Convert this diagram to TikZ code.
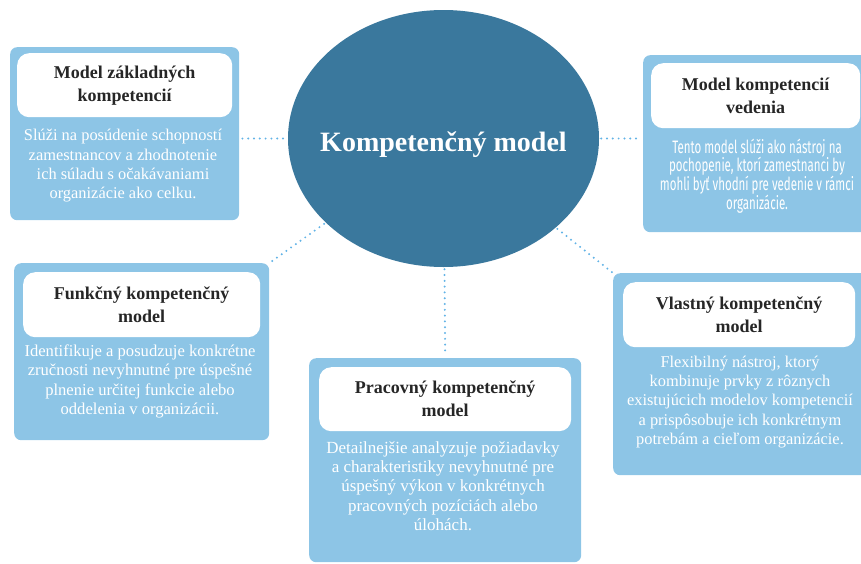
\documentclass[tikz,border=0pt]{standalone}
\usepackage{fontspec}
\setmainfont{Liberation Serif}
\newfontfamily\condsans[FakeStretch=0.64]{Fira Sans}
\usetikzlibrary{shapes.geometric}

\definecolor{hubblue}{HTML}{3A789D}
\definecolor{cardblue}{HTML}{8DC5E6}
\definecolor{dotblue}{HTML}{62B3E6}
\definecolor{titlegray}{HTML}{262626}

\begin{document}
\begin{tikzpicture}[x=1pt,y=-1pt,
  card/.style={fill=cardblue, rounded corners=7pt, inner sep=0pt, anchor=north west},
  headbox/.style={fill=white, rounded corners=12pt, inner sep=0pt, anchor=north west,
    font=\fontsize{18}{23}\selectfont\bfseries, text=titlegray, align=center},
  bodytext/.style={font=\fontsize{16.4}{19.3}\selectfont, text=white, align=center, inner sep=0pt},
  link/.style={draw=dotblue, line width=2.2pt, line cap=round, dash pattern=on 0pt off 5.8pt},
]
\useasboundingbox (0,0) rectangle (861,563);
\clip (0,0) rectangle (861,563);

% central topic
\node[ellipse, fill=hubblue, minimum width=311pt, minimum height=257pt, inner sep=0pt] (ell) at (443.5,138.5) {};
\node[font=\fontsize{28}{32}\selectfont\bfseries, text=white, inner sep=0pt] (hubtext) at ([yshift=-6pt]ell.center) {Kompetenčný model};

% card: basic competences
\node[card, minimum width=229pt, minimum height=173pt] (c1) at (10,47) {};
\node[headbox, minimum width=215pt, minimum height=64pt] (h1) at (17,53) {Model základných\\kompetencií};
\node[bodytext] (b1) at (123,166) {Slúži na posúdenie schopností\\zamestnancov a zhodnotenie\\ich súladu s očakávaniami\\organizácie ako celku.};

% card: leadership competences
\node[card, minimum width=230pt, minimum height=177pt] (c2) at (643,55) {};
\node[headbox, minimum width=209pt, minimum height=65pt] (h2) at (651,63) {Model kompetencií\\vedenia};
\node[bodytext, font=\condsans\fontsize{18}{18.8}\selectfont] (b2) at (757,176) {Tento model slúži ako nástroj na\\pochopenie, ktorí zamestnanci by\\mohli byť vhodní pre vedenie v rámci\\organizácie.};

% card: functional model
\node[card, minimum width=255pt, minimum height=177pt] (c3) at (14,263) {};
\node[headbox, minimum width=237pt, minimum height=65pt] (h3) at (23,272) {Funkčný kompetenčný\\model};
\node[bodytext, font=\fontsize{16.6}{19.3}\selectfont] (b3) at (140,381.5) {Identifikuje a posudzuje konkrétne\\zručnosti nevyhnutné pre úspešné\\plnenie určitej funkcie alebo\\oddelenia v organizácii.};

% card: job model
\node[card, minimum width=272pt, minimum height=204pt] (c4) at (309,358) {};
\node[headbox, minimum width=252pt, minimum height=64pt] (h4) at (319,367) {Pracovný kompetenčný\\model};
\node[bodytext, font=\fontsize{17}{19.2}\selectfont] (b4) at (443,486) {Detailnejšie analyzuje požiadavky\\a charakteristiky nevyhnutné pre\\úspešný výkon v konkrétnych\\pracovných pozíciách alebo\\úlohách.};

% card: custom model
\node[card, minimum width=255pt, minimum height=202pt] (c5) at (613,273) {};
\node[headbox, minimum width=232pt, minimum height=65pt] (h5) at (623,282) {Vlastný kompetenčný\\model};
\node[bodytext] (b5) at (740,402) {Flexibilný nástroj, ktorý\\kombinuje prvky z rôznych\\existujúcich modelov kompetencií\\a prispôsobuje ich konkrétnym\\potrebám a cieľom organizácie.};

% dotted connectors
\draw[link, shorten <=3pt, shorten >=2pt] (ell.west -| c1.east) -- (ell.west);
\draw[link, shorten <=2pt, shorten >=6pt] (ell.east) -- (ell.east -| c2.west);
\draw[link, shorten <=2pt, shorten >=2pt] (ell) -- (c3.north east);
\draw[link, shorten <=2pt, shorten >=3pt] (ell) -- (c4.north);
\draw[link, shorten <=2pt, shorten >=1pt] (ell) -- (c5.north west);
\end{tikzpicture}
\end{document}
